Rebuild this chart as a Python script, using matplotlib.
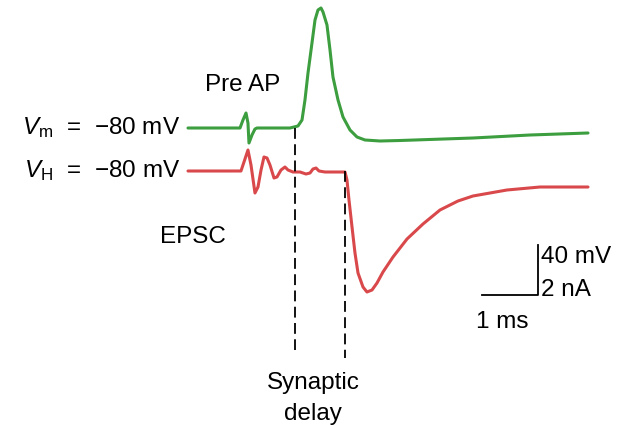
import matplotlib
matplotlib.use("Agg")
import matplotlib.pyplot as plt

plt.rcParams["font.family"] = ["Liberation Sans", "DejaVu Sans"]
plt.rcParams["mathtext.fontset"] = "custom"
plt.rcParams["mathtext.rm"] = "Liberation Sans"
plt.rcParams["mathtext.it"] = "Liberation Sans:italic"

# presynaptic AP (time in ms, Vm in mV)
pre_t = [0.000, 0.929, 0.982, 1.036, 1.071, 1.089, 1.143, 1.196, 1.232, 1.821, 1.964, 2.036,
         2.089, 2.143, 2.214, 2.268, 2.321, 2.375, 2.411, 2.482, 2.536, 2.589, 2.679, 2.768,
         2.893, 3.018, 3.161, 3.429, 3.786, 5.089, 6.107, 7.143]
pre_v = [-80.0, -80.0, -73.6, -68.0, -76.0, -92.0, -85.6, -80.8, -80.0, -80.0, -78.4, -73.6,
         -57.6, -36.0, -12.0, 6.4, 14.4, 16.0, 12.8, 2.4, -17.6, -39.2, -57.6, -71.2,
         -81.6, -87.2, -89.6, -90.4, -90.0, -88.0, -85.6, -84.0]

# EPSC (time in ms, current in nA)
epsc_t = [0.000, 0.946, 1.000, 1.071, 1.125, 1.196, 1.250, 1.304, 1.357, 1.411, 1.464, 1.536,
          1.589, 1.661, 1.732, 1.786, 1.875, 2.000, 2.107, 2.179, 2.232, 2.286, 2.339, 2.446,
          2.804, 2.839, 2.875, 2.929, 2.982, 3.036, 3.125, 3.196, 3.286, 3.375, 3.482, 3.661,
          3.911, 4.196, 4.500, 4.821, 5.089, 5.696, 6.286, 7.143]
epsc_i = [0.00, 0.00, 0.36, 0.84, 0.24, -0.88, -0.64, 0.04, 0.56, 0.52, 0.24, -0.28,
          -0.24, 0.04, 0.16, 0.04, -0.04, -0.04, -0.12, -0.08, 0.08, 0.12, 0.00, -0.04,
          -0.04, -0.36, -1.16, -2.24, -3.28, -4.08, -4.64, -4.84, -4.76, -4.48, -4.04, -3.44,
          -2.72, -2.12, -1.56, -1.20, -1.00, -0.76, -0.64, -0.64]

ap_start = 1.911     # ms, onset of presynaptic AP
epsc_start = 2.804   # ms, onset of EPSC

# vertical layout: EPSC drawn below the Vm trace, 2 nA = 40 mV
epsc_offset = -114.4
mv_per_na = 20

green = "#3c9e3f"
red = "#d9494b"

fig = plt.figure(figsize=(6.23, 4.25), dpi=100)
ax = fig.add_axes([0, 0, 1, 1])
ax.set_xlim(-3.357, 7.768)
ax.set_ylim(-317.6, 22.4)
ax.axis("off")

ax.plot(pre_t, pre_v, color=green, lw=2.2, solid_joinstyle="round", solid_capstyle="round")
ax.plot(epsc_t, [epsc_offset + i * mv_per_na for i in epsc_i], color=red, lw=2.2,
        solid_joinstyle="round", solid_capstyle="round")

ax.plot([ap_start, ap_start], [-80, -257.6], color="black", lw=1.3, ls=(0, (6, 3)))
ax.plot([epsc_start, epsc_start], [epsc_offset, -264], color="black", lw=1.3, ls=(0, (6, 3)))

# scale bar: 1 ms, 40 mV / 2 nA
ax.plot([5.25, 6.25, 6.25], [-213.6, -213.6, -173.6], color="black", lw=1.3)

fs = 17.5
ax.text(-0.14, -80, r"$V_\mathrm{m}$  =  $-$80 mV", ha="right", va="center", fontsize=fs)
ax.text(-0.14, epsc_offset, r"$V_\mathrm{H}$  =  $-$80 mV", ha="right", va="center", fontsize=fs)
ax.text(0.98, -45.6, "Pre AP", ha="center", va="center", fontsize=fs)
ax.text(0.09, -167.2, "EPSC", ha="center", va="center", fontsize=fs)
ax.text(2.23, -284, "Synaptic", ha="center", va="center", fontsize=fs)
ax.text(2.23, -308.5, "delay", ha="center", va="center", fontsize=fs)
ax.text(6.30, -183.2, "40 mV", ha="left", va="center", fontsize=fs)
ax.text(6.30, -209.6, "2 nA", ha="left", va="center", fontsize=fs)
ax.text(5.61, -235.2, "1 ms", ha="center", va="center", fontsize=fs)

fig.savefig("out.png", dpi=100)
